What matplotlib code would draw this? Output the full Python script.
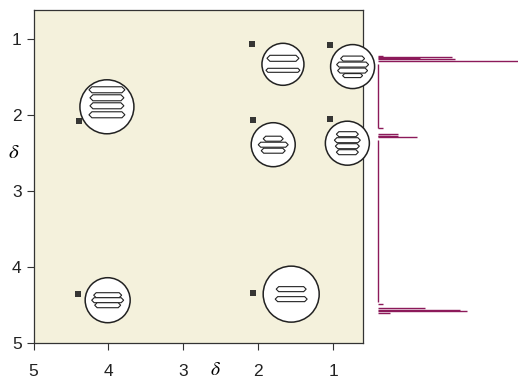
import matplotlib
matplotlib.use('Agg')
import matplotlib.pyplot as plt
from matplotlib.patches import Circle, Polygon
from matplotlib.transforms import Affine2D, ScaledTranslation
from matplotlib.path import Path

# 2D map: cross peaks (small marks) and magnified views (circles)
peak_x = [4.39, 2.08, 1.04, 2.07, 1.04, 4.41, 2.07]
peak_y = [2.08, 1.06, 1.08, 2.06, 2.05, 4.36, 4.34]
zoom_x = [4.02, 1.67, 0.74, 1.80, 0.81, 4.01, 1.56]
zoom_y = [1.89, 1.33, 1.36, 2.39, 2.37, 4.44, 4.36]
zoom_r = [27, 21, 22, 22, 22, 22.5, 28]
# contour bands inside each circle: (offset down, half width, half height)
zoom_bands = [
    [(-17, 18, 3), (-9, 17, 3), (-1, 17, 3), (8, 18, 3)],
    [(-6, 16, 3), (6, 17, 2)],
    [(-8, 12, 2.5), (-2, 16, 2.5), (4, 15, 2.5), (9, 10, 2)],
    [(-6, 10, 2.5), (0, 15, 2.5), (6, 12, 2.5)],
    [(-9, 11, 2.5), (-3, 13, 2.5), (3, 12, 2.5), (9, 11, 2.5)],
    [(-5, 14, 2.5), (0, 16, 2.5), (5, 13, 2.5)],
    [(-5, 15, 2.5), (5, 16, 2.5)],
]

# 1D spectrum on the right: line positions (delta) and lengths
spec_d = [1.216, 1.237, 1.25, 1.26, 1.282,
          2.17, 2.25, 2.27, 2.275, 2.29,
          4.49, 4.547, 4.569, 4.582, 4.609]
spec_h = [5, 74, 42, 77, 145,
          5, 20, 20, 12, 39,
          5, 47, 82, 89, 12]
base_top = [1.33, 2.33]
base_bot = [2.17, 4.47]

ticks = [5, 4, 3, 2, 1]
spec_color = '#8c1a5a'

plt.rcParams['font.family'] = ['Liberation Sans', 'DejaVu Sans']
plt.rcParams['mathtext.fontset'] = 'stix'

fig = plt.figure(figsize=(5.18, 3.80), dpi=100)
ax = fig.add_axes([0.0647, 0.0982, 0.6361, 0.8755])
ax.set_facecolor('#f4f1dc')
ax.set_xlim(5, 0.601)
ax.set_ylim(5, 0.614)
ax.set_xticks(ticks)
ax.set_yticks(ticks)
ax.tick_params(axis='both', direction='out', length=5, width=0.8,
               color='#333333', labelsize=12.5, labelcolor='#222222')
ax.tick_params(axis='x', pad=10)
ax.tick_params(axis='y', pad=3.5)
for s in ax.spines.values():
    s.set_color('#333333')
    s.set_linewidth(0.9)

ax.set_xlabel(r'$\delta$', fontsize=14, va='center')
ax.xaxis.set_label_coords(0.551, -0.083)
ax.set_ylabel(r'$\delta$', fontsize=15, rotation=0, va='center', ha='center')
ax.yaxis.set_label_coords(-0.059, 0.573)

mark = Path([(-1, 0.7), (1, 0.7), (-1, 0.0), (1, 0.0), (-1, -0.7), (1, -0.7)],
            [Path.MOVETO, Path.LINETO] * 3)
ax.plot(peak_x, peak_y, ls='none', marker=mark, ms=5, mew=1.3,
        color='#222222', zorder=3)


def offset_trans(x, y):
    # pixel offsets (y downward) around a data point
    return Affine2D().scale(1, -1) + ScaledTranslation(x, y, ax.transData)


for x, y, r, bands in zip(zoom_x, zoom_y, zoom_r, zoom_bands):
    ax.add_patch(Circle((0, 0), r, transform=offset_trans(x, y), fc='white',
                        ec='#222222', lw=1.1, clip_on=False, zorder=5))
    for dy, hw, hh in bands:
        verts = [(-hw, dy), (-hw + hh, dy - hh), (hw - hh, dy - hh),
                 (hw, dy), (hw - hh, dy + hh), (-hw + hh, dy + hh)]
        ax.add_patch(Polygon(verts, closed=True, transform=offset_trans(x, y),
                             fc='white', ec='#222222', lw=0.8,
                             clip_on=False, zorder=6))

ax2 = fig.add_axes([370 / 518, 0.0982, 148 / 518, 0.8755])
ax2.set_xlim(-8, 140)
ax2.set_ylim(5, 0.614)
ax2.axis('off')
ax2.hlines(spec_d, 0, spec_h, color=spec_color, lw=1.0)
ax2.vlines([0] * len(base_top), base_top, base_bot, color=spec_color, lw=1.0)

fig.savefig('out.png', dpi=100)
